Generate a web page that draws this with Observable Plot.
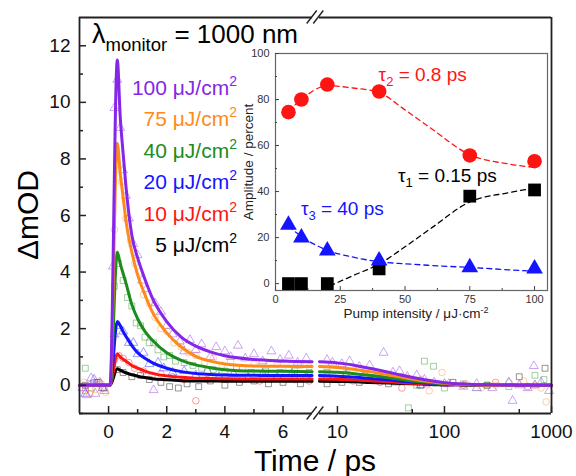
<!DOCTYPE html>
<html><head><meta charset="utf-8">
<script src="https://cdn.jsdelivr.net/npm/d3@7"></script>
<script src="https://cdn.jsdelivr.net/npm/@observablehq/plot@0.6"></script>
<style>
body{margin:0;background:#fff;}
#wrap{position:relative;width:576px;height:476px;overflow:hidden;background:#fff;}
#wrap svg{position:absolute;overflow:visible;}
</style></head><body><div id="wrap"></div>
<script>
// ---------- data ----------
const fluences = ["100", "75", "40", "20", "10", "5"];
const colors = ["#8526e8", "#ff8a1c", "#1c8c1c", "#1414ff", "#ff1414", "#000000"];
const symbols = ["triangle", "circle", "square", "triangle", "circle", "square"];

// fitted kinetics, linear time part (ps)
const tLin = [-1, 0.05, 0.3, 0.4, 0.5, 0.6, 0.8, 1.0, 1.25, 1.5, 2, 2.5, 3, 3.5, 4, 5, 6, 7];
const fitLin100 = [0, 0, 11.5, 9.5, 8.2, 7.0, 5.3, 4.5, 3.75, 3.1, 2.25, 1.7, 1.38, 1.18, 1.04, 0.91, 0.86, 0.83];
const fitLin75  = [0, 0, 8.55, 7.5, 6.65, 5.8, 4.7, 3.9, 3.2, 2.6, 1.85, 1.35, 1.02, 0.85, 0.75, 0.68, 0.67, 0.66];
const fitLin40  = [0, 0, 4.7, 4.3, 3.95, 3.6, 2.85, 2.35, 1.9, 1.6, 1.15, 0.88, 0.72, 0.62, 0.55, 0.5, 0.49, 0.48];
const fitLin20  = [0, 0, 2.25, 2.1, 1.9, 1.72, 1.4, 1.15, 0.95, 0.8, 0.6, 0.48, 0.41, 0.38, 0.36, 0.35, 0.34, 0.34];
const fitLin10  = [0, 0, 1.1, 1.0, 0.92, 0.85, 0.7, 0.6, 0.5, 0.42, 0.33, 0.28, 0.25, 0.24, 0.23, 0.22, 0.22, 0.22];
const fitLin5   = [0, 0, 0.58, 0.53, 0.48, 0.44, 0.37, 0.32, 0.27, 0.23, 0.19, 0.16, 0.15, 0.15, 0.14, 0.14, 0.14, 0.14];

// fitted kinetics, log time part (ps)
const tLog = [6.8, 10, 15, 20, 30, 40, 60, 80, 100, 150, 200, 300, 500, 1000];
const fitLog100 = [0.83, 0.79, 0.69, 0.6, 0.46, 0.35, 0.22, 0.14, 0.09, 0.04, 0.02, 0.01, 0, 0];
const fitLog75  = [0.66, 0.63, 0.55, 0.48, 0.36, 0.28, 0.17, 0.11, 0.07, 0.03, 0.01, 0, 0, 0];
const fitLog40  = [0.48, 0.46, 0.4, 0.35, 0.26, 0.2, 0.12, 0.08, 0.05, 0.02, 0.01, 0, 0, 0];
const fitLog20  = [0.34, 0.32, 0.28, 0.24, 0.19, 0.14, 0.09, 0.06, 0.04, 0.02, 0.01, 0, 0, 0];
const fitLog10  = [0.22, 0.21, 0.18, 0.16, 0.12, 0.09, 0.06, 0.04, 0.02, 0.01, 0, 0, 0, 0];
const fitLog5   = [0.14, 0.13, 0.12, 0.1, 0.08, 0.06, 0.04, 0.02, 0.02, 0.01, 0, 0, 0, 0];

// measured points [time ps, ΔmOD]
const meas100 = [[-0.9,-0.1],[-0.75,-0.35],[-0.6,0.25],[-0.45,-0.3],[-0.3,0.1],[-0.15,-0.2],[0.15,4.2],[0.2,9.8],[0.3,10.8],[0.4,9.1],[0.5,7.6],[0.6,6.7],[0.7,5.9],[0.85,5.0],[1.0,4.6],[1.15,3.7],[1.3,3.4],[1.55,-0.17],[1.6,2.9],[1.8,2.6],[2.0,2.1],[2.2,1.8],[2.45,1.55],[2.6,1.2],[2.8,1.6],[3.0,1.25],[3.2,1.45],[3.5,1.0],[3.7,1.35],[4.0,1.2],[4.2,1.0],[4.45,1.4],[4.7,0.95],[5.0,1.1],[5.3,0.85],[5.6,1.2],[5.9,0.9],[6.2,1.05],[6.5,0.8],[6.8,0.95],
  [8,0.9],[9,0.8],[11,0.75],[13,0.85],[16,0.65],[20,0.7],[27,1.15],[33,0.45],[38,0.5],[45,0.3],[55,0.35],[65,0.2],[80,0.1],[110,0.05],[150,-0.05],[200,0.05],[280,-0.1],[433,-0.55],[500,0.0],[600,-0.1],[684,0.68],[800,0.1],[950,-0.2]];
const meas75 = [[-0.85,0.1],[-0.65,-0.3],[-0.45,-0.15],[-0.25,0.05],[-0.1,-0.25],[0.2,5.5],[0.3,7.8],[0.45,7.2],[0.6,5.9],[0.75,5.1],[0.9,4.3],[1.05,4.0],[1.2,3.2],[1.4,2.9],[1.6,2.4],[1.8,2.0],[2.0,1.9],[2.25,1.5],[2.5,1.35],[2.75,1.15],[3.0,1.05],[3.3,0.8],[3.6,0.95],[3.9,0.7],[4.2,0.85],[4.6,0.6],[5.0,0.75],[5.4,0.6],[5.8,0.75],[6.2,0.6],[6.6,0.7],[6.9,0.65],
  [8,0.6],[11,0.7],[14,0.5],[18,0.55],[25,0.35],[35,0.3],[45,0.25],[60,0.2],[72,-0.2],[95,0.45],[120,0.1],[160,0.05],[220,-0.1],[300,0.0],[400,0.1],[550,0.15],[700,0.0],[800,-0.1],[890,-0.59]];
const meas40 = [[-0.8,0.6],[-0.6,-0.1],[-0.35,0.1],[-0.15,-0.1],[0.2,3.5],[0.35,4.3],[0.5,3.7],[0.65,3.1],[0.8,2.8],[0.95,2.2],[1.1,2.1],[1.25,1.7],[1.4,1.5],[1.55,1.5],[1.7,1.25],[1.9,1.0],[2.1,1.05],[2.3,0.85],[2.6,0.8],[2.9,0.7],[3.2,0.6],[3.6,0.55],[4.0,0.5],[4.4,0.6],[4.9,0.45],[5.4,0.5],[5.9,0.45],[6.4,0.5],[6.9,0.45],
  [8,0.45],[12,0.4],[18,0.35],[25,0.25],[32,0.2],[46,-0.8],[55,0.0],[65,0.85],[79,0.67],[100,-0.1],[150,0.05],[250,0.0],[400,-0.05],[700,0.35],[850,0.2]];
const meas20 = [[-0.8,-0.3],[-0.5,0.2],[-0.2,-0.1],[0.2,1.8],[0.35,2.1],[0.5,1.9],[0.7,1.5],[0.85,1.5],[1.0,1.1],[1.2,1.15],[1.4,0.75],[1.7,0.8],[1.9,0.6],[2.2,0.45],[2.6,0.5],[3.0,0.35],[3.4,0.5],[3.8,0.3],[4.3,0.4],[4.8,0.25],[5.3,0.4],[5.8,0.3],[6.3,0.4],[6.8,0.3],
  [8,0.3],[12,0.35],[20,0.2],[35,0.1],[60,0.0],[100,0.05],[200,-0.1],[400,0.1],[700,0.0]];
const meas10 = [[-0.8,-0.2],[-0.5,0.1],[-0.2,-0.1],[0.2,0.9],[0.35,1.05],[0.5,0.95],[0.7,0.8],[0.9,0.6],[1.2,0.5],[1.5,0.35],[1.8,0.4],[2.2,0.3],[2.6,0.2],[3.0,-0.55],[3.4,0.2],[4.0,0.3],[4.6,0.2],[5.2,0.15],[5.8,0.25],[6.4,0.2],[6.9,0.15],
  [9,0.2],[14,0.15],[25,0.1],[40,-0.1],[70,0.05],[150,0.0],[300,0.1],[600,-0.05]];
const meas5 = [[-0.8,0.0],[-0.4,0.1],[0.3,0.55],[0.5,0.45],[0.8,0.3],[1.1,0.35],[1.4,0.2],[1.8,0.1],[2.1,-0.05],[2.4,-0.1],[2.7,0.05],[3.1,-0.05],[3.5,0.15],[4.0,0.0],[4.5,0.1],[5.0,0.15],[5.5,0.05],[6.0,0.1],[6.6,0.05],
  [8,0.05],[11,0.1],[16,0.1],[30,0.05],[60,0.0],[120,0.1],[250,0.0],[500,0.3],[870,0.6]];

// axis ticks
const yMajor = [0, 2, 4, 6, 8, 10, 12];
const yMinor = [-1, 1, 3, 5, 7, 9, 11];
const xLinMajor = [0, 2, 4, 6];
const xLinMinor = [1, 3, 5];
const xLogMajor = [10, 100, 1000];
const xLogMinor = [50, 500];

// inset: amplitudes vs pump intensity
const pump = [5, 10, 20, 40, 75, 100];
const ampTau2 = [74.5, 80, 86.5, 83.5, 55.7, 53.2];
const ampTau1 = [0, 0, 0, 6.4, 38, 40.7];
const ampTau3 = [25.5, 20, 14.3, 10, 7, 6.5];
const fitTau2X = [5, 10, 20, 30, 40, 50, 60, 75, 90, 100];
const fitTau2Y = [75, 80, 86, 85, 83, 75.5, 67.5, 56, 52, 50.5];
const fitTau1X = [21, 30, 40, 50, 60, 75, 90, 100];
const fitTau1Y = [-1, 3.5, 8.5, 16, 24, 35.5, 39.5, 41.5];
const fitTau3X = [5, 10, 20, 30, 40, 50, 60, 75, 90, 100];
const fitTau3Y = [25, 20.5, 14.5, 11.5, 9.5, 8.6, 7.9, 7, 6, 5.3];
const insetXTicks = [0, 25, 50, 75, 100];
const insetXMinor = [12.5, 37.5, 62.5, 87.5];
const insetYTicks = [0, 20, 40, 60, 80, 100];
const insetYMinor = [10, 30, 50, 70, 90];

// ---------- build ----------
const font = '"Liberation Sans", Arial, Helvetica, sans-serif';
const fitLin = [fitLin100, fitLin75, fitLin40, fitLin20, fitLin10, fitLin5];
const fitLog = [fitLog100, fitLog75, fitLog40, fitLog20, fitLog10, fitLog5];
const meas = [meas100, meas75, meas40, meas20, meas10, meas5];
const order = [5, 4, 3, 2, 1, 0];
const rows = (ts, vs) => ts.map((t, j) => ({t, v: vs[j]}));
const pts = (a) => a.map(([t, v]) => ({t, v}));
const frameStroke = "#222";
const H = 476;

// left (linear) panel
const leftMarks = [];
for (const i of order) leftMarks.push(Plot.dot(pts(meas[i]).filter(d => d.t <= 7), {x: "t", y: "v", symbol: symbols[i], r: 3.3, fill: "none", stroke: colors[i], strokeOpacity: 0.42, strokeWidth: 1}));
for (const i of order) leftMarks.push(Plot.line(rows(tLin, fitLin[i]), {x: "t", y: "v", stroke: colors[i], strokeWidth: 3, curve: "monotone-x"}));
leftMarks.push(
  Plot.ruleX([-1], {stroke: frameStroke, strokeWidth: 1.8}),
  Plot.ruleY([-1, 13], {stroke: frameStroke, strokeWidth: 1.8}),
  Plot.axisY({ticks: yMajor, tickSize: -7, tickPadding: 16, tickFormat: d => String(d), label: null, fontSize: 19, stroke: frameStroke, strokeWidth: 1.5}),
  Plot.axisY({ticks: yMinor, tickSize: -4, tickFormat: () => "", label: null, stroke: frameStroke, strokeWidth: 1.5}),
  Plot.axisX({ticks: xLinMajor, tickSize: -7, tickPadding: 18, tickFormat: d => String(d), label: null, fontSize: 19, stroke: frameStroke, strokeWidth: 1.5}),
  Plot.axisX({ticks: xLinMinor, tickSize: -4, tickFormat: () => "", label: null, stroke: frameStroke, strokeWidth: 1.5})
);
const left = Plot.plot({
  width: 320, height: H,
  marginLeft: 79, marginRight: 320 - 311.6, marginTop: 17, marginBottom: H - 413,
  x: {domain: [-1, 7]}, y: {domain: [-1, 13]},
  style: {fontFamily: font, color: "#111", background: "transparent", overflow: "visible"},
  marks: leftMarks
});

// right (log) panel
const rightMarks = [];
for (const i of order) rightMarks.push(Plot.dot(pts(meas[i]).filter(d => d.t > 7), {x: "t", y: "v", symbol: symbols[i], r: 3.3, fill: "none", stroke: colors[i], strokeOpacity: 0.42, strokeWidth: 1}));
for (const i of order) rightMarks.push(Plot.line(rows(tLog, fitLog[i]), {x: "t", y: "v", stroke: colors[i], strokeWidth: 3, curve: "monotone-x"}));
rightMarks.push(
  Plot.ruleX([1000], {stroke: frameStroke, strokeWidth: 1.8}),
  Plot.ruleY([-1, 13], {stroke: frameStroke, strokeWidth: 1.8}),
  Plot.axisX({ticks: xLogMajor, tickSize: -7, tickPadding: 18, tickFormat: d => String(d), label: null, fontSize: 19, stroke: frameStroke, strokeWidth: 1.5}),
  Plot.axisX({ticks: xLogMinor, tickSize: -4, tickFormat: () => "", label: null, stroke: frameStroke, strokeWidth: 1.5})
);
const right = Plot.plot({
  width: 265, height: H,
  marginLeft: 8, marginRight: 25, marginTop: 17, marginBottom: H - 413,
  x: {type: "log", domain: [6.8, 1000]}, y: {domain: [-1, 13], axis: null},
  style: {fontFamily: font, color: "#111", background: "transparent", overflow: "visible"},
  marks: rightMarks
});

// inset
const insetColor = "#444";
const inset = Plot.plot({
  width: 330, height: 290,
  marginLeft: 45, marginRight: 13, marginTop: 13, marginBottom: 40,
  x: {domain: [0, 105]}, y: {domain: [-3, 100]},
  style: {fontFamily: font, color: "#333", background: "transparent", overflow: "visible"},
  marks: [
    Plot.frame({stroke: "#666", strokeWidth: 1.2}),
    Plot.axisX({ticks: insetXTicks, tickSize: -4, tickPadding: 9, label: null, fontSize: 11, stroke: insetColor}),
    Plot.axisX({ticks: insetXMinor, tickSize: -2, tickFormat: () => "", label: null, stroke: insetColor}),
    Plot.axisY({ticks: insetYTicks, tickSize: -4, tickPadding: 10, label: null, fontSize: 11, stroke: insetColor}),
    Plot.axisY({ticks: insetYMinor, tickSize: -2, tickFormat: () => "", label: null, stroke: insetColor}),
    Plot.line(rows(fitTau2X, fitTau2Y), {x: "t", y: "v", stroke: "#ff1414", strokeWidth: 1.3, strokeDasharray: "5,4", curve: "monotone-x"}),
    Plot.line(rows(fitTau1X, fitTau1Y), {x: "t", y: "v", stroke: "#000", strokeWidth: 1.3, strokeDasharray: "5,4", curve: "monotone-x"}),
    Plot.line(rows(fitTau3X, fitTau3Y), {x: "t", y: "v", stroke: "#1414ff", strokeWidth: 1.3, strokeDasharray: "5,4", curve: "monotone-x"}),
    Plot.dot(rows(pump, ampTau2), {x: "t", y: "v", symbol: "circle", r: 7.3, fill: "#ff1414"}),
    Plot.dot(rows(pump, ampTau1), {x: "t", y: "v", symbol: "square", r: 7.2, fill: "#000"}),
    Plot.dot(rows(pump, ampTau3), {x: "t", y: "v", symbol: "triangle", r: 6.2, fill: "#1414ff"})
  ]
});

const wrap = document.getElementById("wrap");
left.style.left = "0px"; left.style.top = "0px";
right.style.left = "311px"; right.style.top = "0px";
inset.style.left = "230px"; inset.style.top = "40px";
wrap.appendChild(left); wrap.appendChild(right); wrap.appendChild(inset);

// ---------- annotations ----------
const L = d3.select(left);
// axis titles
L.append("text").attr("x", 315).attr("y", 471).attr("text-anchor", "middle")
  .attr("font-family", font).attr("font-size", 30).attr("fill", "#000").text("Time / ps");
L.append("text").attr("transform", "translate(38,215) rotate(-90)").attr("text-anchor", "middle")
  .attr("font-family", font).attr("font-size", 30).attr("fill", "#000").text("ΔmOD");
// monitor wavelength
const lam = L.append("text").attr("x", 92).attr("y", 43).attr("text-anchor", "start").attr("font-family", font).attr("fill", "#000");
lam.append("tspan").attr("font-size", 27).text("λ");
lam.append("tspan").attr("font-size", 18.5).attr("dy", 8).text("monitor");
lam.append("tspan").attr("font-size", 26).attr("dy", -8).text(" = 1000 nm");
// fluence legend
fluences.forEach((f, i) => {
  const t = L.append("text").attr("x", 237).attr("y", 95 + i * 31.4).attr("text-anchor", "end")
    .attr("font-family", font).attr("font-size", 21).attr("fill", colors[i]);
  t.append("tspan").text(f + " μJ/cm");
  t.append("tspan").attr("font-size", 14).attr("dy", -9).text("2");
});

// axis breaks
const R = d3.select(right);
const xr = right.scale("x"), yr = right.scale("y");
const xb = xr.apply(6.8);
for (const yv of [-1, 13]) {
  const yy = yr.apply(yv);
  for (const off of [-12.3, -5.7]) {
    R.append("line").attr("x1", xb + off).attr("y1", yy + 6.5).attr("x2", xb + off + 10).attr("y2", yy - 6.5)
      .attr("stroke", frameStroke).attr("stroke-width", 1.4);
  }
}

// inset labels
const I = d3.select(inset);
const xi = inset.scale("x"), yi = inset.scale("y");
const xl = I.append("text").attr("x", 186).attr("y", 278).attr("text-anchor", "middle")
  .attr("font-family", font).attr("font-size", 13.5).attr("fill", "#222");
xl.append("tspan").text("Pump intensity / μJ·cm");
xl.append("tspan").attr("font-size", 9).attr("dy", -5).text("-2");
I.append("text").attr("transform", "translate(23,122) rotate(-90)").attr("text-anchor", "middle")
  .attr("font-family", font).attr("font-size", 13.5).attr("fill", "#222").text("Amplitude / percent");
function tau(sub, rest, xv, yv, color) {
  const t = I.append("text").attr("x", xi.apply(xv)).attr("y", yi.apply(yv)).attr("text-anchor", "start")
    .attr("font-family", font).attr("font-size", 19).attr("fill", color);
  t.append("tspan").text("τ");
  t.append("tspan").attr("font-size", 13).attr("dy", 5).text(sub);
  t.append("tspan").attr("dy", -5).text(rest);
}
tau("2", " = 0.8 ps", 40, 88, "#ff1414");
tau("1", " = 0.15 ps", 47.5, 44, "#000");
tau("3", " = 40 ps", 10, 29.5, "#1414ff");
</script>
</body></html>
